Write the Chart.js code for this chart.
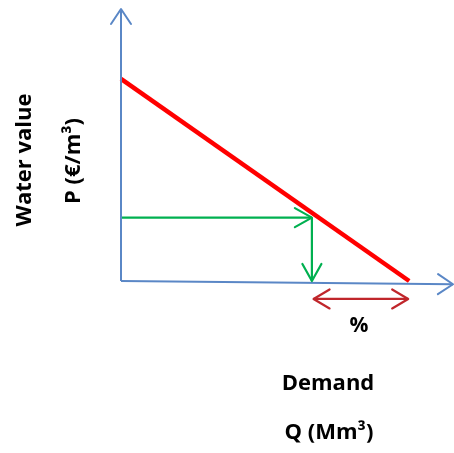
<!DOCTYPE html>
<html>
<head>
<meta charset="utf-8">
<script src="https://cdn.jsdelivr.net/npm/chart.js@4"></script>
<style>
  html, body { margin: 0; padding: 0; background: #ffffff; }
  #wrap { width: 454px; height: 453px; position: relative; }
</style>
</head>
<body>
<div id="wrap"><canvas id="c"></canvas></div>
<script>
// ---- data (conceptual demand diagram, scaled 0..100) ----
const axisQ = [0, 100];            // horizontal axis (Q) from origin to arrow tip
const axisQLevel = [0, -1.2];      // slight tilt of the drawn Q axis
const axisP = [0, 100];            // vertical axis (P) from origin to arrow tip
const demandQ = [0, 86.8];         // red demand curve
const demandP = [74.3, 0];
const priceQ = [0, 57.5];          // green price level arrow
const priceP = [23.3, 23.3];
const readQ = [57.5, 57.5];        // green read-down arrow
const readP = [23.3, 0];
const rangeQ = [58, 86.5];         // dark red "%" range arrow
const rangeP = [-6.6, -6.6];
const yTitle = ["Water value", "P (€/m³)"];
const xTitle = ["Demand", "Q (Mm³)"];
const rangeLabel = "%";

const pts = (xs, ys) => xs.map((x, i) => ({ x: x, y: ys[i] }));

const arrowPlugin = {
  id: 'arrows',
  afterDatasetsDraw(chart) {
    const ctx = chart.ctx;
    chart.data.datasets.forEach((ds, di) => {
      const meta = chart.getDatasetMeta(di);
      const p = meta.data;
      if (!p || p.length < 2) return;
      const draw = (tip, from) => {
        const ang = Math.atan2(tip.y - from.y, tip.x - from.x);
        const L = ds.arrowLen, W = ds.arrowHalf;
        ctx.save();
        ctx.strokeStyle = ds.borderColor;
        ctx.lineWidth = ds.arrowWidth || ds.borderWidth;
        ctx.lineCap = 'round';
        ctx.lineJoin = 'round';
        ctx.beginPath();
        const bx = tip.x - L * Math.cos(ang), by = tip.y - L * Math.sin(ang);
        ctx.moveTo(bx + W * Math.sin(ang), by - W * Math.cos(ang));
        ctx.lineTo(tip.x, tip.y);
        ctx.lineTo(bx - W * Math.sin(ang), by + W * Math.cos(ang));
        ctx.stroke();
        ctx.restore();
      };
      if (ds.arrowEnd) draw(p[p.length - 1], p[p.length - 2]);
      if (ds.arrowStart) draw(p[0], p[1]);
    });
  }
};

const textPlugin = {
  id: 'texts',
  afterDraw(chart) {
    const ctx = chart.ctx;
    const xs = chart.scales.x, ys = chart.scales.y;
    ctx.save();
    ctx.fillStyle = '#000000';
    ctx.textAlign = 'center';
    ctx.textBaseline = 'middle';
    ctx.font = 'bold 22px "Open Sans", sans-serif';
    // rotated P-axis title
    ctx.save();
    ctx.translate(25, 160);
    ctx.rotate(-Math.PI / 2);
    ctx.fillText(yTitle[0], 0, 0);
    ctx.restore();
    ctx.save();
    ctx.translate(74, 161);
    ctx.rotate(-Math.PI / 2);
    ctx.fillText(yTitle[1], 0, 0);
    ctx.restore();
    // Q-axis title
    ctx.fillText(xTitle[0], 328, 384);
    ctx.fillText(xTitle[1], 329, 433);
    // % label under range arrow
    ctx.font = 'bold 21px "Open Sans", sans-serif';
    const mx = (xs.getPixelForValue(rangeQ[0]) + xs.getPixelForValue(rangeQ[1])) / 2;
    ctx.fillText(rangeLabel, mx - 2, ys.getPixelForValue(rangeP[0]) + 27);
    ctx.restore();
  }
};

new Chart(document.getElementById('c'), {
  type: 'scatter',
  data: {
    datasets: [
      { data: pts(axisQ, axisQLevel), borderColor: '#5a87c6', borderWidth: 2, arrowEnd: true, arrowLen: 15, arrowHalf: 10 },
      { data: pts([0, 0], axisP), borderColor: '#5a87c6', borderWidth: 2, arrowEnd: true, arrowLen: 15, arrowHalf: 10 },
      { data: pts(demandQ, demandP), borderColor: '#ff0000', borderWidth: 4.5 },
      { data: pts(priceQ, priceP), borderColor: '#00b050', borderWidth: 2.2, arrowEnd: true, arrowLen: 17, arrowHalf: 9.5 },
      { data: pts(readQ, readP), borderColor: '#00b050', borderWidth: 2.2, arrowEnd: true, arrowLen: 17, arrowHalf: 9.5 },
      { data: pts(rangeQ, rangeP), borderColor: '#c0262b', borderWidth: 2.2, arrowEnd: true, arrowStart: true, arrowLen: 16, arrowHalf: 9.5 }
    ].map(d => Object.assign({ showLine: true, pointRadius: 0, fill: false, clip: false, borderCapStyle: 'butt' }, d))
  },
  options: {
    responsive: true,
    maintainAspectRatio: false,
    animation: false,
    events: [],
    layout: { padding: { left: 121, right: 1, top: 9, bottom: 172 } },
    plugins: { legend: { display: false }, tooltip: { enabled: false } },
    scales: {
      x: { type: 'linear', min: 0, max: 100, display: false },
      y: { type: 'linear', min: 0, max: 100, display: false }
    }
  },
  plugins: [arrowPlugin, textPlugin]
});
</script>
</body>
</html>
